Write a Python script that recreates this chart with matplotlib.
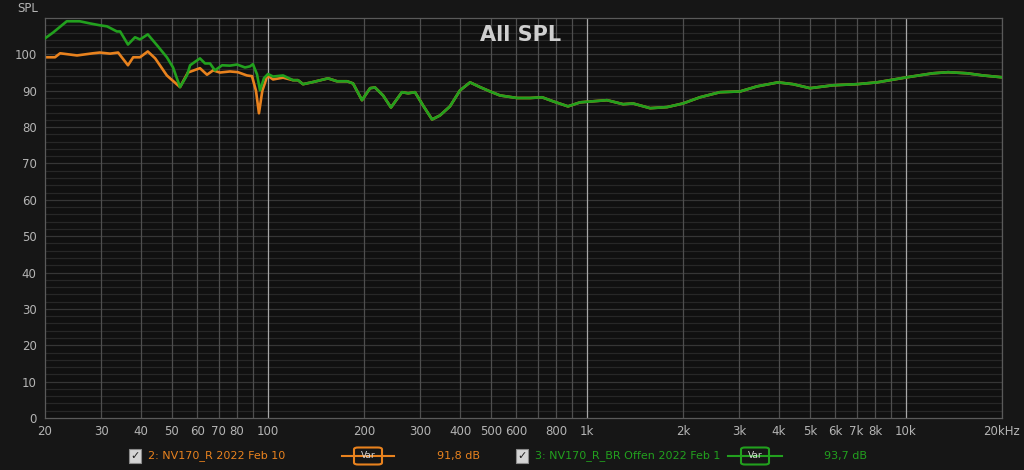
import matplotlib
import matplotlib.pyplot as plt
import matplotlib.patches as mpatches
from matplotlib.ticker import FixedLocator, NullFormatter

matplotlib.rcParams['font.family'] = 'DejaVu Sans'

# orange: 2: NV170_R 2022 Feb 10, below ~100 Hz
orange_freq = [20, 21.5, 22.3, 25.2, 28.3, 29.7, 32.0, 33.9, 36.4, 37.8, 39.7, 42.0,
               44.3, 48.2, 53.0, 56.1, 61.2, 64.4, 67.3, 70.7, 76.0, 80.5, 85.9,
               89.1, 91.7, 93.7, 96.0, 99.6, 103.7, 111.5]
orange_db = [99.2, 99.2, 100.3, 99.7, 100.3, 100.5, 100.2, 100.5, 97.0, 99.2, 99.2, 100.8,
             98.9, 94.2, 91.0, 95.0, 96.2, 94.4, 95.6, 95.0, 95.3, 95.1, 94.2,
             94.0, 90.0, 83.8, 90.0, 94.2, 93.1, 93.6]

# green: 3: NV170_R_BR Offen 2022 Feb 1, below ~100 Hz
green_freq = [20, 21.2, 23.4, 25.7, 27.7, 29.7, 31.3, 33.6, 34.4, 36.4, 38.3, 39.7,
              42.0, 44.9, 48.2, 50.4, 53.0, 55.7, 57.0, 61.2, 63.5, 65.8, 68.2,
              71.8, 76.0, 80.0, 84.7, 87.8, 89.7, 92.4, 94.4, 97.2, 100, 103.7, 111.5]
green_db = [104.4, 106.0, 109.1, 109.1, 108.5, 108.0, 107.7, 106.3, 106.3, 102.7, 104.7, 104.1,
            105.5, 102.5, 99.2, 96.4, 91.0, 94.2, 97.0, 98.9, 97.5, 97.5, 95.6,
            97.0, 96.9, 97.2, 96.4, 96.7, 97.3, 94.5, 90.1, 93.5, 94.6, 93.9, 94.2]

# both curves lie on top of each other above ~110 Hz
upper_freq = [119.8, 124.2, 128.8, 138.5, 154.3, 164.6, 177, 184.8, 197.1, 209, 216.5,
              229.5, 243, 263, 275, 289, 306, 327, 346, 372, 400, 430, 462, 497,
              534, 604, 663, 723, 782, 872, 951, 1045, 1156, 1298, 1394, 1577,
              1783, 2000, 2261, 2612, 3020, 3413, 3972, 4427, 5003, 5904, 7017,
              8110, 10070, 12150, 13550, 15530, 17430, 20000]
upper_db = [92.9, 92.9, 91.8, 92.4, 93.4, 92.6, 92.6, 92.0, 87.4, 90.7, 90.9,
            88.7, 85.4, 89.6, 89.3, 89.6, 86.0, 82.1, 83.2, 85.7, 90.1, 92.3, 91.0, 89.8,
            88.7, 88.0, 88.0, 88.2, 87.1, 85.7, 86.8, 87.1, 87.4, 86.3, 86.5, 85.2,
            85.5, 86.5, 88.2, 89.6, 89.8, 91.2, 92.3, 91.8, 90.7, 91.5, 91.8,
            92.3, 93.7, 94.8, 95.1, 94.8, 94.2, 93.7]

xtick_vals = [20, 30, 40, 50, 60, 70, 80, 100, 200, 300, 400, 500, 600, 800,
              1000, 2000, 3000, 4000, 5000, 6000, 7000, 8000, 10000, 20000]
xtick_labels = ['20', '30', '40', '50', '60', '70', '80', '100', '200', '300', '400',
                '500', '600', '800', '1k', '2k', '3k', '4k', '5k', '6k', '7k', '8k',
                '10k', '20kHz']
ytick_vals = [0, 10, 20, 30, 40, 50, 60, 70, 80, 90, 100]

orange = '#e8821e'
green = '#22a01e'
txt = '#b4b4b4'

fig = plt.figure(figsize=(10.24, 4.70), dpi=100, facecolor='#161616')
ax = fig.add_axes([45 / 1024, 1 - 418 / 470, 957 / 1024, 400 / 470])
ax.set_facecolor('#101010')

ax.set_xscale('log')
ax.set_xlim(20, 20000)
ax.set_ylim(0, 110)

# grid: fine horizontal every 2 dB, verticals at every decade step
for v in range(2, 110, 2):
    ax.axhline(v, color='#272727' if v % 10 else '#363636', lw=0.9, zorder=0)
minor_x = [f * d for d in (10, 100, 1000) for f in range(2, 10)] + [20000]
for f in minor_x:
    if 20 < f <= 20000:
        ax.axvline(f, color='#4e4e4e', lw=0.9, zorder=0)
for f in (100, 1000, 10000):
    ax.axvline(f, color='#a8a8a8', lw=0.9, zorder=0)

ax.plot(orange_freq + upper_freq, orange_db + upper_db, color=orange, lw=1.9, zorder=2,
        solid_joinstyle='round')
ax.plot(green_freq + upper_freq, green_db + upper_db, color=green, lw=1.9, zorder=3,
        solid_joinstyle='round')

ax.xaxis.set_major_locator(FixedLocator(xtick_vals))
ax.set_xticklabels(xtick_labels)
ax.xaxis.set_minor_formatter(NullFormatter())
ax.xaxis.set_minor_locator(FixedLocator([]))
ax.set_yticks(ytick_vals)
ax.tick_params(axis='both', length=0, colors=txt, labelsize=8.5)
ax.tick_params(axis='x', pad=5)
ax.tick_params(axis='y', pad=6)
for s in ax.spines.values():
    s.set_color('#5a5a5a')
    s.set_linewidth(0.9)

fig.text(28 / 1024, 1 - 9 / 470, 'SPL', color=txt, fontsize=8.5, ha='center', va='center')
fig.text(521 / 1024, 1 - 35 / 470, 'All SPL', color='#cfcfcf', fontsize=15,
         fontweight='bold', ha='center', va='center')

# legend strip at the bottom
ly = 1 - 456 / 470


def legend_entry(x0, label, value, color, line_x0, line_x1, val_x):
    fig.patches.append(mpatches.Rectangle(((x0 - 6) / 1024, ly - 7 / 470), 12 / 1024, 14 / 470,
                                          transform=fig.transFigure, facecolor='#d4d4d4',
                                          edgecolor='#8a8a8a', lw=0.8))
    fig.text(x0 / 1024, ly, '✓', color='#202020', fontsize=8, ha='center', va='center',
             fontweight='bold')
    fig.text((x0 + 13) / 1024, ly, label, color=color, fontsize=8, ha='left', va='center')
    fig.lines.append(plt.Line2D([line_x0 / 1024, line_x1 / 1024], [ly, ly], color=color,
                                lw=1.5, transform=fig.transFigure))
    cx = (line_x0 + line_x1) / 2
    fig.patches.append(mpatches.FancyBboxPatch(((cx - 14) / 1024, ly - 8.5 / 470), 28 / 1024,
                                               17 / 470, boxstyle='round,pad=0,rounding_size=0.004',
                                               transform=fig.transFigure, facecolor='#161616',
                                               edgecolor=color, lw=1.5))
    fig.text(cx / 1024, ly, 'Var', color='#d8d8d8', fontsize=6.5, ha='center', va='center')
    fig.text(val_x / 1024, ly, value, color=color, fontsize=8, ha='left', va='center')


legend_entry(135, '2: NV170_R 2022 Feb 10', '91,8 dB', orange, 342, 394, 437)
legend_entry(522, '3: NV170_R_BR Offen 2022 Feb 1', '93,7 dB', green, 728, 782, 824)

fig.savefig('out.png', dpi=100, facecolor=fig.get_facecolor())
